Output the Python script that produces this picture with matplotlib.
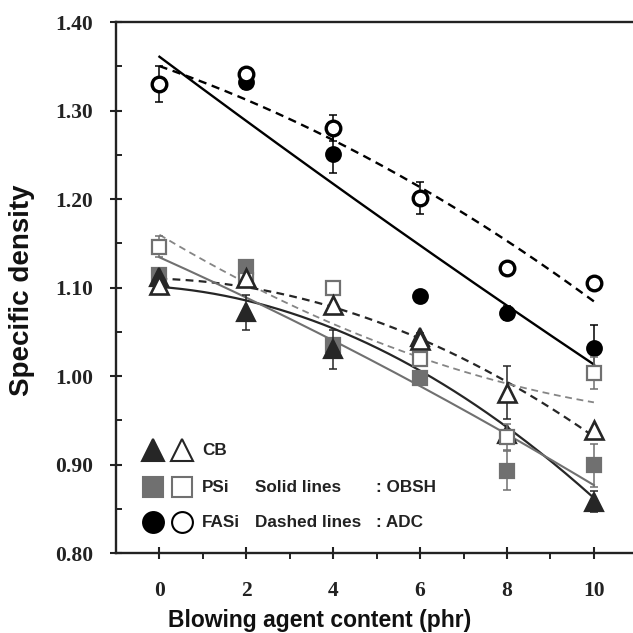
import numpy as np
import matplotlib
matplotlib.use("Agg")
import matplotlib.pyplot as plt
from matplotlib.ticker import MultipleLocator, FixedLocator

# ---------------- data ----------------
x = [0, 2, 4, 6, 8, 10]

# CB (triangles): filled = OBSH, open = ADC
cb_obsh = [1.112, 1.072, 1.030, 1.044, 0.934, 0.858]
cb_adc = [1.103, 1.111, 1.080, 1.041, 0.981, 0.939]
cb_obsh_err = [0, 0.020, 0.022, 0, 0, 0.012]
cb_adc_err = [0, 0, 0, 0.008, 0.030, 0]

# PSi (squares)
psi_obsh = [1.114, 1.123, 1.035, 0.998, 0.893, 0.899]
psi_adc = [1.146, 1.108, 1.099, 1.019, 0.931, 1.003]
psi_obsh_err = [0, 0, 0, 0, 0.022, 0.024]
psi_adc_err = [0.012, 0, 0, 0.008, 0.015, 0.018]

# FASi (circles)
fasi_obsh = [1.330, 1.332, 1.251, 1.090, 1.071, 1.032]
fasi_adc = [1.330, 1.341, 1.280, 1.201, 1.122, 1.105]
fasi_obsh_err = [0, 0.008, 0.022, 0, 0.008, 0.026]
fasi_adc_err = [0.020, 0.006, 0.015, 0.018, 0, 0]

xticks = [0, 2, 4, 6, 8, 10]
yticks = [0.80, 0.90, 1.00, 1.10, 1.20, 1.30, 1.40]

xlabel = "Blowing agent content (phr)"
ylabel = "Specific density"

# ---------------- figure ----------------
W = H = 633
fig = plt.figure(figsize=(W / 100, H / 100), dpi=100)
ax = fig.add_axes([116 / W, 1 - 553 / H, 1 - 116 / W, (553 - 22) / H])
ax.set_xlim(-1, 10.9)
ax.set_ylim(0.80, 1.40)

BLACK = "#000000"
DARK = "#262626"
GREY = "#707070"
GREY_L = "#858585"

tick_font = dict(family="Liberation Serif", weight="bold", size=15.5)

# fitted trend lines (2nd order polynomial of each series)
xf = np.linspace(0, 10, 200)
def fit(y):
    return np.polyval(np.polyfit(x, y, 2), xf)

ax.plot(xf, fit(fasi_obsh), color=BLACK, lw=1.7, zorder=2)
ax.plot(xf, fit(fasi_adc), color=BLACK, lw=1.7, ls=(0, (3.5, 2.4)), zorder=2)
ax.plot(xf, fit(cb_obsh), color=DARK, lw=1.6, zorder=2)
ax.plot(xf, fit(cb_adc), color=DARK, lw=1.6, ls=(0, (3.5, 2.4)), zorder=2)
ax.plot(xf, fit(psi_obsh), color=GREY, lw=1.5, zorder=2)
ax.plot(xf, fit(psi_adc), color=GREY_L, lw=1.3, ls=(0, (3.8, 2.6)), zorder=2)

def series(y, err, marker, ms, face, edge, z, mew=1.6):
    yerr = np.array(err)
    ax.errorbar(x, y, yerr=yerr, fmt="none", ecolor=edge, elinewidth=1.1,
                capsize=3, capthick=1.1, zorder=z - 0.5)
    ax.plot(x, y, ls="none", marker=marker, ms=ms, mfc=face, mec=edge,
            mew=mew, zorder=z)

series(psi_obsh, psi_obsh_err, "s", 10.5, GREY, GREY, 3)
series(cb_obsh, cb_obsh_err, "^", 12.5, DARK, DARK, 4)
series(psi_adc, psi_adc_err, "s", 10.5, "white", GREY, 5)
series(cb_adc, cb_adc_err, "^", 12.5, "white", DARK, 6, mew=1.9)
series(fasi_obsh, fasi_obsh_err, "o", 10.5, BLACK, BLACK, 4)
series(fasi_adc, fasi_adc_err, "o", 10.5, "white", BLACK, 6, mew=2.4)

# ---------------- in-plot legend ----------------
def px2x(px):
    return -1 + (px - 116) / 517 * 11.9
def py2y(py):
    return 1.40 - (py - 22) / 885

leg_font = dict(family="Liberation Sans", weight="bold", size=12.3, color="#222222")
rows = [
    (450, "^", 15.5, DARK, DARK, "white", "CB", "", ""),
    (487, "s", 14, GREY, GREY, "white", "PSi", "Solid lines", ": OBSH"),
    (522, "o", 15, BLACK, BLACK, "white", "FASi", "Dashed lines", ": ADC"),
]
for py, mk, ms, fc, ec, fc2, name, l1, l2 in rows:
    yy = py2y(py)
    ax.plot([px2x(153)], [yy], marker=mk, ms=ms, mfc=fc, mec=ec, mew=1.5,
            ls="none", clip_on=False, zorder=7)
    ax.plot([px2x(182)], [yy], marker=mk, ms=ms, mfc=fc2, mec=ec, mew=1.5,
            ls="none", clip_on=False, zorder=7)
    ax.text(px2x(202), yy, name, va="center", ha="left", **leg_font)
    if l1:
        ax.text(px2x(255), yy, l1, va="center", ha="left", **leg_font)
        ax.text(px2x(376), yy, l2, va="center", ha="left", **leg_font)

# ---------------- axes styling ----------------
for s in ["left", "top", "bottom"]:
    ax.spines[s].set_linewidth(1.7)
    ax.spines[s].set_color("#222222")
ax.spines["right"].set_visible(False)

ax.xaxis.set_major_locator(FixedLocator(xticks))
ax.xaxis.set_minor_locator(FixedLocator([1, 3, 5, 7, 9]))
ax.yaxis.set_major_locator(FixedLocator(yticks))
ax.yaxis.set_minor_locator(MultipleLocator(0.05))

ax.tick_params(axis="both", which="major", direction="inout", length=9,
               width=1.5, color="#222222")
ax.tick_params(axis="x", which="major", pad=16)
ax.tick_params(axis="y", which="major", pad=12)
ax.tick_params(axis="x", which="minor", direction="out", length=4, width=1.4,
               color="#222222")
ax.tick_params(axis="y", which="minor", direction="in", length=4, width=1.4,
               color="#222222")
ax.tick_params(top=False, right=False, which="both")

ax.set_xticklabels([str(v) for v in xticks], fontdict=tick_font)
ax.set_yticklabels([f"{v:.2f}" for v in yticks], fontdict=tick_font)
for t in ax.get_xticklabels() + ax.get_yticklabels():
    t.set_color("#222222")

fig.text(320 / W, 1 - 620 / H, xlabel, ha="center", va="center",
         family="Liberation Sans", weight="bold", size=16.5, color="#111111")
fig.text(22 / W, 1 - 290 / H, ylabel, ha="center", va="center", rotation=90,
         family="Liberation Sans", weight="bold", size=20, color="#111111")

fig.savefig("out.png", dpi=100)
